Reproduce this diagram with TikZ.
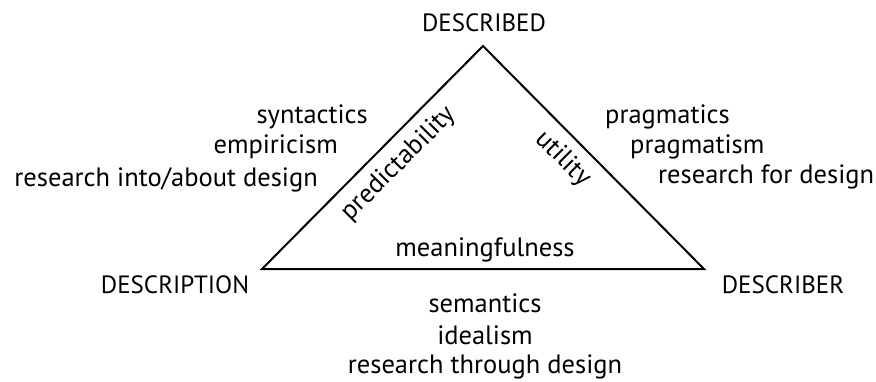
\documentclass[tikz,border=0pt]{standalone}
\usepackage{fontspec}
\setmainfont{PT Sans}

\begin{document}
\begin{tikzpicture}[
        x=1pt, y=1pt,
        font=\fontsize{26.5}{30}\selectfont,
        % Stile
        side/.style={draw=black, line width=2pt},
        corner/.style={inner sep=0pt, anchor=base, font=\fontsize{25}{30}\selectfont},
        lefttext/.style={inner sep=0pt, anchor=base east},
        righttext/.style={inner sep=0pt, anchor=base west},
        midtext/.style={inner sep=0pt, anchor=base}
    ]
    \useasboundingbox (0,0) rectangle (876,381);

    % ==========================================
    % 1. DREIECK
    % ==========================================
    \coordinate (top)   at (483, 335);
    \coordinate (left)  at (262, 112);
    \coordinate (right) at (704, 112);

    \draw[side] (left) -- (top) -- (right) -- cycle;

    % Ecken
    \node[corner] (described)   at (484, 349) {DESCRIBED};
    \node[corner] (description) at (175, 88)  {DESCRIPTION};
    \node[corner] (describer)   at (783, 88)  {DESCRIBER};

    % Seiten (innen)
    \node[rotate=45]  (predict) at (399, 217) {predictability};
    \node[rotate=-45] (utility) at (563, 222) {utility};
    \node[midtext]    (meaning) at (485, 125) {meaningfulness};

    % ==========================================
    % 2. BESCHRIFTUNGEN AUSSEN
    % ==========================================

    % --- links ---
    \node[lefttext] (syntactics) at (368, 258) {syntactics};
    \node[lefttext] (empiricism) at (338, 227) {empiricism};
    \node[lefttext] (into)       at (318, 195) {research into/about design};

    % --- rechts ---
    \node[righttext] (pragmatics) at (605, 258) {pragmatics};
    \node[righttext] (pragmatism) at (630, 228) {pragmatism};
    \node[righttext] (for)        at (658, 198) {research for design};

    % --- unten ---
    \node[midtext] (semantics) at (485, 69) {semantics};
    \node[midtext] (idealism)  at (485, 37) {idealism};
    \node[midtext] (through)   at (485, 8)  {research through design};

\end{tikzpicture}
\end{document}
